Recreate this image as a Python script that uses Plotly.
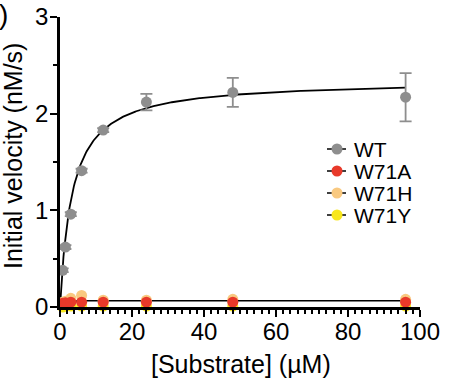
import numpy as np
import plotly.graph_objects as go

# ---- data ----
substrate = [0.75, 1.5, 3, 6, 12, 24, 48, 96]
wt = [0.38, 0.62, 0.96, 1.41, 1.83, 2.12, 2.22, 2.17]
wt_err = [0.02, 0.02, 0.02, 0.02, 0.02, 0.085, 0.15, 0.25]
w71a = [0.04, 0.045, 0.05, 0.05, 0.05, 0.05, 0.05, 0.05]
w71h = [0.05, 0.06, 0.09, 0.12, 0.07, 0.07, 0.08, 0.08]
w71y = [0.0, 0.01, 0.01, 0.01, 0.01, 0.01, 0.01, 0.01]
series_names = ["WT", "W71A", "W71H", "W71Y"]
colors = ["#8E8E8E", "#E8392A", "#F9C980", "#F8E71C"]

# Michaelis-Menten fit parameters (Vmax, Km)
fit_wt = (2.35, 3.4)
fit_w71a = (0.066, 0.2)

x_ticks = [0, 20, 40, 60, 80, 100]
y_ticks = [0, 1, 2, 3]

FONT = "Liberation Sans, Arial, Helvetica, sans-serif"

def mm(vmax, km, s):
    return vmax * s / (km + s)

s_fit = np.linspace(0, max(substrate), 400)

fig = go.Figure()

# fitted lines
fig.add_trace(go.Scatter(x=s_fit, y=mm(*fit_wt, s_fit), mode="lines",
                         line=dict(color="black", width=1.8), showlegend=False,
                         cliponaxis=False, hoverinfo="skip"))
fig.add_trace(go.Scatter(x=s_fit, y=mm(*fit_w71a, s_fit), mode="lines",
                         line=dict(color="black", width=1.5), showlegend=False,
                         cliponaxis=False, hoverinfo="skip"))

# points (drawn back to front: W71Y, W71H, W71A, WT)
for name, ys, col in [("W71Y", w71y, colors[3]), ("W71H", w71h, colors[2]),
                      ("W71A", w71a, colors[1])]:
    fig.add_trace(go.Scatter(x=substrate, y=ys, mode="markers", name=name,
                             marker=dict(color=col, size=11, line=dict(width=0)),
                             showlegend=False, cliponaxis=False))
fig.add_trace(go.Scatter(x=substrate, y=wt, mode="markers", name="WT",
                         marker=dict(color=colors[0], size=11, line=dict(width=0)),
                         error_y=dict(type="data", array=wt_err, color=colors[0],
                                      thickness=1.8, width=6),
                         showlegend=False, cliponaxis=False))

# plot area in pixels: x 60..420, y 17..307
L, R, T, B = 60, 420, 17, 307
W, H = 452, 388

def px(xp):
    return (xp - L) / (R - L)

def py(yp):
    return (B - yp) / (B - T)

shapes = []
annotations = []
leg_y = [149, 171, 193, 215]
for name, col, yy in zip(series_names, colors, leg_y):
    shapes.append(dict(type="line", xref="paper", yref="paper",
                       x0=px(327), x1=px(346), y0=py(yy), y1=py(yy),
                       line=dict(color="black", width=1.5)))
    shapes.append(dict(type="circle", xref="paper", yref="paper",
                       xsizemode="pixel", ysizemode="pixel",
                       xanchor=px(337), yanchor=py(yy),
                       x0=-5.5, x1=5.5, y0=-5.5, y1=5.5,
                       fillcolor=col, line=dict(width=0)))
    annotations.append(dict(text=name, xref="paper", yref="paper",
                            x=px(352), y=py(yy), xanchor="left", yanchor="middle",
                            showarrow=False, font=dict(size=21, color="black", family=FONT)))

annotations.append(dict(text="[Substrate] (µM)", xref="paper", yref="paper",
                        x=px(241), y=py(364), xanchor="center", yanchor="middle",
                        showarrow=False, font=dict(size=25, color="black", family=FONT)))
annotations.append(dict(text="Initial velocity (nM/s)", xref="paper", yref="paper",
                        x=px(13), y=py(156), xanchor="center", yanchor="middle",
                        textangle=-90, showarrow=False,
                        font=dict(size=25, color="black", family=FONT)))
annotations.append(dict(text=")", xref="paper", yref="paper",
                        x=px(10), y=py(14), xanchor="right", yanchor="middle",
                        showarrow=False, font=dict(size=28, color="black", family=FONT)))

axis_common = dict(showgrid=False, zeroline=False, automargin=False,
                   showline=True, linecolor="black", linewidth=2.5,
                   ticks="outside", ticklen=7, tickwidth=2, tickcolor="black",
                   tickfont=dict(size=24, family=FONT, color="black"))

fig.update_layout(
    width=W, height=H,
    margin=dict(l=L, r=W - R, t=T, b=H - B, pad=0, autoexpand=False),
    paper_bgcolor="white", plot_bgcolor="white",
    showlegend=False,
    shapes=shapes, annotations=annotations,
    font=dict(family=FONT, color="black"),
    xaxis=dict(range=[0, 100], tickvals=x_ticks, ticklabelstandoff=-6,
               minor=dict(dtick=2, ticks="outside", ticklen=4, tickwidth=1.5,
                          tickcolor="black", showgrid=False),
               **axis_common),
    yaxis=dict(range=[0, 3], tickvals=y_ticks, ticklabelstandoff=-3,
               minor=dict(dtick=0.5, ticks="outside", ticklen=4, tickwidth=1.5,
                          tickcolor="black", showgrid=False),
               **axis_common),
)

fig.write_html("out.html",
               config={"displayModeBar": False},
               post_script="document.body.style.margin='0';document.body.style.overflow='hidden';")
